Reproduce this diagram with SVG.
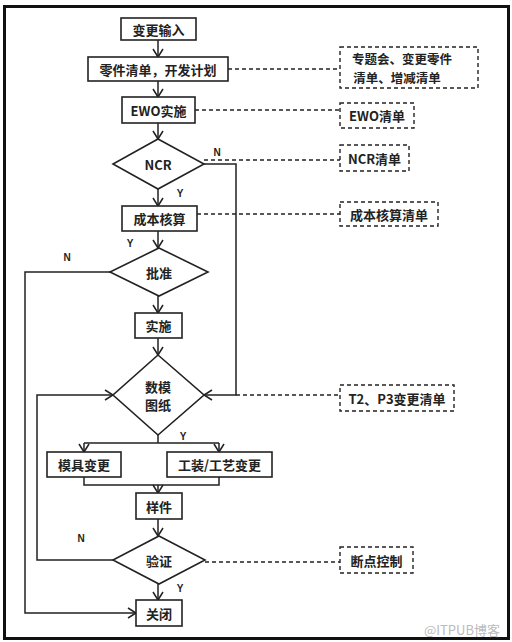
<svg xmlns="http://www.w3.org/2000/svg" width="512" height="642" viewBox="0 0 512 642">
<style>
.box{fill:#fff;stroke:#222;stroke-width:1.6}
.dbox{fill:#fff;stroke:#222;stroke-width:1.4;stroke-dasharray:4 3}
.t{font-family:"Noto Sans CJK SC","Liberation Sans",sans-serif;font-size:13px;font-weight:bold;fill:#222;text-anchor:middle;dominant-baseline:central}
.lab{font-family:"Liberation Sans",sans-serif;font-size:10px;font-weight:bold;fill:#222;text-anchor:middle;dominant-baseline:central}
.ln{fill:none;stroke:#222;stroke-width:1.5}
.ar{marker-end:url(#arr)}
.dl{fill:none;stroke:#222;stroke-width:1.4;stroke-dasharray:4 3}
</style>
<defs>
<marker id="arr" markerUnits="userSpaceOnUse" markerWidth="12" markerHeight="12" viewBox="0 0 12 12" refX="10" refY="6" orient="auto">
<path d="M2,1 L10,6 L2,11" fill="none" stroke="#222" stroke-width="1.5"/>
</marker>
</defs>
<rect x="0" y="0" width="512" height="642" fill="#fff"/>
<rect x="4.5" y="6.5" width="504" height="632" fill="none" stroke="#111" stroke-width="3"/>

<g id="connectors">
<path class="ln ar" d="M158,40 V57"/>
<path class="ln ar" d="M158,81 V97"/>
<path class="ln ar" d="M158,123 V139"/>
<path class="ln ar" d="M158,189 V206"/>
<path class="ln ar" d="M158,231 V248"/>
<path class="ln ar" d="M158,296 V313"/>
<path class="ln ar" d="M158,338 V355"/>
<path class="ln ar" d="M204,164 H236 V395 H204"/>
<path class="ln" d="M158,435 V443 M84,443 H219"/>
<path class="ln ar" d="M84,443 V452"/>
<path class="ln ar" d="M219,443 V452"/>
<path class="ln" d="M84,477 V485 H219 V477"/>
<path class="ln ar" d="M158,485 V493"/>
<path class="ln ar" d="M158,519 V536"/>
<path class="ln ar" d="M158,584 V600"/>
<path class="ln ar" d="M113,560 H37 V395 H113"/>
<path class="ln ar" d="M110,272 H25 V613 H136"/>
<path class="dl" d="M228,69 H340"/>
<path class="dl" d="M195,110 H340"/>
<path class="dl" d="M204,160 H340"/>
<path class="dl" d="M197,214 H340"/>
<path class="dl" d="M236,395 H340"/>
<path class="dl" d="M205,562 H340"/>
</g>

<g id="n-input"><rect class="box" x="121" y="18" width="75" height="22"/><text class="t" x="158.5" y="29">变更输入</text></g>
<g id="n-parts"><rect class="box" x="88" y="57" width="140" height="24"/><text class="t" x="158" y="69">零件清单，开发计划</text></g>
<g id="n-ewo"><rect class="box" x="122" y="97" width="73" height="26"/><text class="t" x="158.5" y="110">EWO实施</text></g>
<g id="n-ncr"><polygon class="box" points="158,139 204,164 158,189 113,164"/><text class="t" x="158" y="164">NCR</text></g>
<g id="n-cost"><rect class="box" x="122" y="206" width="75" height="25"/><text class="t" x="159.5" y="218.5">成本核算</text></g>
<g id="n-approve"><polygon class="box" points="159,248 208,272 159,296 110,272"/><text class="t" x="159" y="272">批准</text></g>
<g id="n-impl"><rect class="box" x="135" y="313" width="47" height="25"/><text class="t" x="158.5" y="325.5">实施</text></g>
<g id="n-model"><polygon class="box" points="158,355 204,395 158,435 113,395"/><text class="t" x="158" y="386">数模</text><text class="t" x="158" y="404">图纸</text></g>
<g id="n-mold"><rect class="box" x="47" y="452" width="74" height="25"/><text class="t" x="84" y="464.5">模具变更</text></g>
<g id="n-tool"><rect class="box" x="167" y="452" width="105" height="25"/><text class="t" x="219.5" y="464.5">工装/工艺变更</text></g>
<g id="n-sample"><rect class="box" x="136" y="493" width="46" height="26"/><text class="t" x="159" y="506">样件</text></g>
<g id="n-verify"><polygon class="box" points="159,536 205,560 159,584 113,560"/><text class="t" x="159" y="560">验证</text></g>
<g id="n-close"><rect class="box" x="136" y="600" width="46" height="26"/><text class="t" x="159" y="613">关闭</text></g>

<g id="s-topic"><rect class="dbox" x="340" y="47" width="138" height="41"/><text class="t" x="402" y="58" style="font-size:12.5px">专题会、变更零件</text><text class="t" x="397" y="77" style="font-size:12.5px">清单、增减清单</text></g>
<g id="s-ewo"><rect class="dbox" x="340" y="103" width="74" height="25"/><text class="t" x="377" y="115.5">EWO清单</text></g>
<g id="s-ncr"><rect class="dbox" x="340" y="145" width="69" height="26"/><text class="t" x="374.5" y="158">NCR清单</text></g>
<g id="s-cost"><rect class="dbox" x="340" y="202" width="98" height="24"/><text class="t" x="389" y="214">成本核算清单</text></g>
<g id="s-t2"><rect class="dbox" x="340" y="385" width="114" height="26"/><text class="t" x="397" y="398">T2、P3变更清单</text></g>
<g id="s-break"><rect class="dbox" x="340" y="547" width="73" height="26"/><text class="t" x="376.5" y="560">断点控制</text></g>

<g id="labels">
<text class="lab" x="217" y="152">N</text>
<text class="lab" x="180" y="193">Y</text>
<text class="lab" x="130" y="243">Y</text>
<text class="lab" x="67" y="257">N</text>
<text class="lab" x="183" y="436">Y</text>
<text class="lab" x="81" y="538">N</text>
<text class="lab" x="180" y="588">Y</text>
</g>
<text x="462" y="629" font-family="Noto Sans CJK SC,Liberation Sans,sans-serif" font-size="13" fill="#bbb" text-anchor="middle" dominant-baseline="central">@ITPUB博客</text>
</svg>
